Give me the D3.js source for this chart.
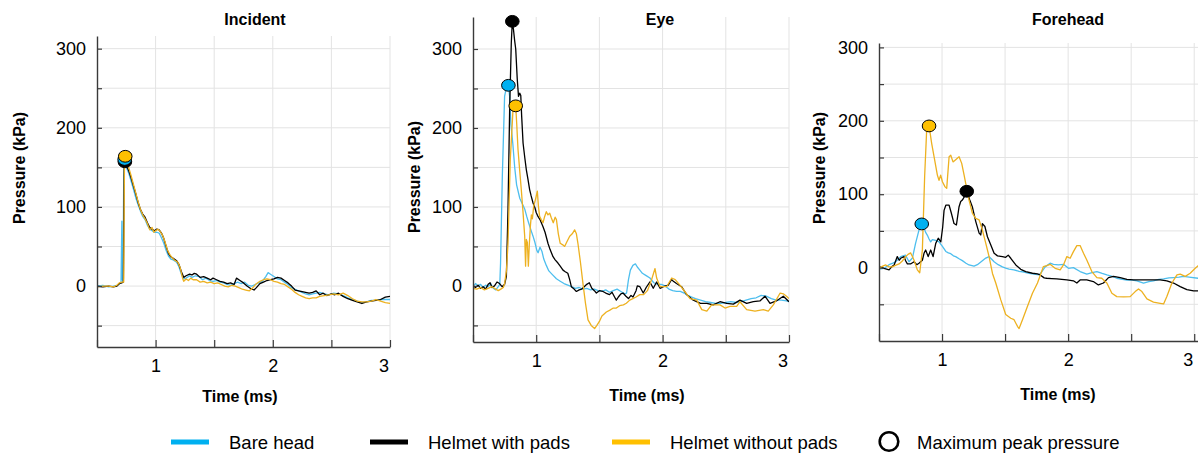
<!DOCTYPE html>
<html>
<head>
<meta charset="utf-8">
<script src="https://cdn.jsdelivr.net/npm/d3@7"></script>
<style>
  body { margin: 0; background: #fff; }
  svg { font-family: "Liberation Sans", Arial, sans-serif; }
</style>
</head>
<body>
<svg id="chart" width="1198" height="453"></svg>
<script>
// data: [time (ms), pressure (kPa)]

var incidentBare = [[0.50,0],[0.55,1],[0.60,-1],[0.64,0],[0.67,1],[0.69,3],[0.705,4],[0.712,82],[0.716,8],[0.722,6],[0.728,140],[0.736,160],[0.75,150],[0.77,143],[0.79,133],[0.81,123],[0.83,112],[0.85,103],[0.87,95],[0.89,88],[0.91,84],[0.93,77],[0.95,72],[0.97,70],[0.99,68],[1.01,68],[1.03,67],[1.05,61],[1.07,54],[1.09,45],[1.11,38],[1.13,34],[1.15,33],[1.18,30],[1.20,24],[1.22,15],[1.24,9],[1.26,10],[1.29,13],[1.31,11],[1.34,13],[1.37,12],[1.40,8],[1.43,10],[1.46,7],[1.49,6],[1.52,7],[1.55,5],[1.58,4],[1.61,2],[1.64,1],[1.67,3],[1.70,5],[1.73,3],[1.76,5],[1.79,1],[1.82,0],[1.85,2],[1.88,4],[1.91,6],[1.94,12],[1.96,17],[1.98,15],[2.01,12],[2.04,9],[2.07,8],[2.10,5],[2.13,2],[2.16,-2],[2.19,-4],[2.22,-6],[2.25,-8],[2.28,-10],[2.31,-11],[2.34,-10],[2.37,-9],[2.40,-8],[2.44,-10],[2.48,-11],[2.52,-9],[2.56,-10],[2.60,-12],[2.64,-15],[2.68,-17],[2.72,-19],[2.76,-21],[2.80,-20],[2.84,-18],[2.88,-18],[2.92,-17],[2.96,-17],[3.0,-17]];

var incidentPads = [[0.50,0],[0.55,-1],[0.60,0],[0.64,-1],[0.67,0],[0.69,3],[0.71,4],[0.725,5],[0.732,150],[0.738,157],[0.75,152],[0.77,146],[0.79,137],[0.81,127],[0.83,117],[0.85,106],[0.87,97],[0.89,91],[0.91,87],[0.93,80],[0.95,74],[0.97,72],[0.99,70],[1.01,72],[1.03,71],[1.05,67],[1.07,60],[1.09,50],[1.11,41],[1.13,37],[1.15,35],[1.18,32],[1.20,27],[1.22,18],[1.24,11],[1.26,13],[1.29,15],[1.31,14],[1.33,16],[1.35,15],[1.38,11],[1.41,12],[1.44,10],[1.47,8],[1.49,10],[1.52,8],[1.55,6],[1.58,5],[1.61,3],[1.64,4],[1.67,2],[1.69,10],[1.72,7],[1.75,4],[1.78,0],[1.81,-3],[1.84,-5],[1.86,-2],[1.89,3],[1.92,5],[1.95,7],[1.98,8],[2.01,9],[2.04,11],[2.07,10],[2.10,7],[2.13,4],[2.16,0],[2.19,-5],[2.22,-6],[2.25,-7],[2.28,-8],[2.31,-9],[2.34,-8],[2.37,-6],[2.40,-11],[2.43,-9],[2.46,-12],[2.50,-10],[2.53,-11],[2.56,-9],[2.60,-13],[2.64,-16],[2.68,-18],[2.72,-20],[2.76,-22],[2.80,-20],[2.84,-19],[2.88,-18],[2.92,-17],[2.96,-14],[3.0,-13]];

var incidentNoPads = [[0.50,-1],[0.55,0],[0.60,0],[0.64,-1],[0.67,1],[0.69,4],[0.71,5],[0.728,5],[0.734,150],[0.741,164],[0.75,158],[0.77,150],[0.79,140],[0.81,129],[0.83,118],[0.85,107],[0.87,97],[0.89,90],[0.91,85],[0.93,79],[0.95,71],[0.97,74],[0.985,68],[1.0,70],[1.02,72],[1.04,69],[1.06,64],[1.08,56],[1.10,46],[1.12,40],[1.14,36],[1.16,33],[1.19,30],[1.21,23],[1.23,10],[1.24,6],[1.26,9],[1.28,7],[1.30,10],[1.32,8],[1.35,8],[1.38,5],[1.41,6],[1.44,4],[1.47,5],[1.50,3],[1.53,4],[1.56,2],[1.59,0],[1.62,-1],[1.65,1],[1.68,0],[1.71,-2],[1.74,-4],[1.77,-5],[1.80,-6],[1.83,-2],[1.86,3],[1.89,6],[1.92,8],[1.95,9],[1.98,8],[2.01,6],[2.04,5],[2.07,3],[2.10,2],[2.13,-1],[2.16,-4],[2.19,-8],[2.22,-11],[2.25,-13],[2.28,-15],[2.31,-16],[2.34,-15],[2.37,-15],[2.40,-13],[2.44,-12],[2.48,-11],[2.52,-10],[2.56,-11],[2.60,-9],[2.64,-12],[2.68,-16],[2.72,-19],[2.76,-20],[2.80,-20],[2.84,-19],[2.88,-17],[2.92,-19],[2.96,-21],[3.0,-22]];

var eyeBare = [[0.50,-1],[0.52,3],[0.54,0],[0.56,2],[0.58,-2],[0.60,1],[0.62,-1],[0.64,3],[0.66,-3],[0.68,-5],[0.70,-1],[0.712,2],[0.718,29],[0.732,139],[0.75,240],[0.765,252],[0.78,254],[0.79,240],[0.80,205],[0.815,180],[0.83,150],[0.845,128],[0.87,111],[0.89,104],[0.91,97],[0.925,88],[0.94,80],[0.96,70],[0.975,63],[0.99,55],[1.005,45],[1.015,42],[1.03,49],[1.045,44],[1.06,34],[1.08,26],[1.10,19],[1.13,14],[1.16,9],[1.19,6],[1.22,3],[1.25,1],[1.28,-1],[1.31,-3],[1.34,-2],[1.37,-4],[1.40,-3],[1.43,-5],[1.46,-4],[1.49,-6],[1.52,-7],[1.55,-5],[1.58,-8],[1.61,-6],[1.64,-4],[1.67,-7],[1.70,-10],[1.715,-9],[1.73,8],[1.745,20],[1.765,26],[1.785,28],[1.80,24],[1.82,20],[1.84,16],[1.87,13],[1.90,10],[1.93,4],[1.96,2],[1.99,2],[2.02,0],[2.05,-4],[2.08,-6],[2.11,-7],[2.14,-7],[2.17,-9],[2.20,-12],[2.23,-14],[2.26,-16],[2.30,-18],[2.34,-20],[2.38,-21],[2.42,-22],[2.46,-22],[2.50,-21],[2.54,-20],[2.58,-21],[2.62,-20],[2.66,-18],[2.70,-16],[2.74,-15],[2.78,-12],[2.82,-13],[2.86,-16],[2.90,-18],[2.94,-18],[2.98,-19],[3.0,-20]];

var eyePads = [[0.50,0],[0.52,-2],[0.54,1],[0.56,-3],[0.58,-1],[0.60,-4],[0.62,2],[0.635,4],[0.65,-2],[0.67,0],[0.69,5],[0.71,3],[0.73,-1],[0.75,2],[0.764,12],[0.777,97],[0.79,224],[0.803,308],[0.811,335],[0.82,325],[0.83,310],[0.838,300],[0.85,262],[0.86,240],[0.87,244],[0.878,241],[0.885,215],[0.896,181],[0.91,162],[0.922,147],[0.935,135],[0.948,122],[0.96,114],[0.975,105],[0.99,99],[1.0,93],[1.014,88],[1.03,84],[1.054,75],[1.07,68],[1.093,54],[1.11,46],[1.133,37],[1.15,33],[1.172,29],[1.19,25],[1.212,20],[1.23,18],[1.25,16],[1.265,8],[1.278,-1],[1.30,-4],[1.318,-7],[1.34,-5],[1.36,-4],[1.38,-1],[1.40,2],[1.42,4],[1.44,-3],[1.46,-6],[1.476,-9],[1.50,-6],[1.528,-7],[1.55,-9],[1.58,-11],[1.60,-8],[1.62,-14],[1.634,-18],[1.65,-14],[1.67,-10],[1.687,-9],[1.71,-13],[1.73,-16],[1.75,-12],[1.766,-14],[1.79,-6],[1.80,0],[1.82,-1],[1.847,-9],[1.87,-2],[1.90,5],[1.926,-3],[1.953,5],[1.98,-3],[2.006,-1],[2.045,1],[2.07,8],[2.085,6],[2.11,3],[2.15,-1],[2.19,-11],[2.243,-18],[2.30,-22],[2.35,-22],[2.40,-24],[2.454,-20],[2.507,-22],[2.56,-23],[2.612,-18],[2.665,-22],[2.718,-20],[2.77,-19],[2.81,-13],[2.85,-22],[2.90,-19],[2.955,-13],[3.0,-20]];

var eyeNoPads = [[0.50,-3],[0.53,-4],[0.56,-2],[0.59,-5],[0.62,-3],[0.65,-1],[0.68,-4],[0.70,-6],[0.72,-4],[0.74,-2],[0.75,3],[0.765,20],[0.777,54],[0.795,160],[0.816,222],[0.83,225],[0.838,228],[0.846,205],[0.856,173],[0.87,145],[0.882,122],[0.895,95],[0.909,63],[0.916,25],[0.922,59],[0.93,55],[0.938,25],[0.946,54],[0.955,78],[0.962,90],[0.97,85],[0.98,101],[0.995,110],[1.009,120],[1.018,100],[1.027,88],[1.04,84],[1.054,80],[1.067,88],[1.08,94],[1.093,90],[1.107,92],[1.12,86],[1.135,80],[1.15,87],[1.16,84],[1.175,66],[1.19,54],[1.21,52],[1.225,50],[1.24,55],[1.265,63],[1.285,66],[1.304,71],[1.318,66],[1.33,54],[1.35,30],[1.37,3],[1.39,-22],[1.41,-43],[1.435,-50],[1.462,-54],[1.48,-50],[1.50,-45],[1.52,-38],[1.555,-33],[1.58,-31],[1.61,-28],[1.634,-28],[1.66,-25],[1.69,-24],[1.713,-22],[1.74,-18],[1.765,-16],[1.79,-14],[1.82,-11],[1.85,-11],[1.88,-6],[1.913,8],[1.94,22],[1.953,10],[1.98,-1],[2.032,-1],[2.072,10],[2.10,8],[2.137,1],[2.18,-8],[2.217,-16],[2.27,-18],[2.31,-30],[2.35,-32],[2.388,-24],[2.454,-24],[2.494,-28],[2.533,-26],[2.586,-26],[2.612,-20],[2.665,-30],[2.731,-32],[2.797,-30],[2.836,-32],[2.876,-24],[2.93,-9],[2.955,-10],[2.98,-13],[3.0,-16]];

var foreheadBare = [[0.50,-2],[0.54,-1],[0.58,4],[0.61,6],[0.632,8],[0.65,11],[0.672,15],[0.69,16],[0.71,17],[0.738,8],[0.765,13],[0.79,33],[0.817,51],[0.839,59.5],[0.857,54],[0.87,48],[0.884,44],[0.897,39],[0.91,35],[0.923,38],[0.95,37],[0.976,35],[1.003,29],[1.03,22],[1.05,20],[1.069,19],[1.09,16],[1.108,15],[1.135,12],[1.161,9.5],[1.19,6],[1.214,3.6],[1.254,2],[1.28,4],[1.31,8],[1.347,13],[1.373,15],[1.39,12],[1.413,8],[1.445,4],[1.479,1],[1.51,-1],[1.532,-2],[1.57,-3],[1.611,-5],[1.65,-6],[1.69,-8],[1.73,-9],[1.77,-10],[1.79,-6],[1.818,1],[1.857,6],[1.884,4.5],[1.923,3.6],[1.963,4.5],[2.003,-1],[2.042,0],[2.095,-5.4],[2.148,-9],[2.19,-7],[2.228,-5.4],[2.27,-8],[2.307,-10],[2.35,-12],[2.386,-14.5],[2.43,-16],[2.466,-17],[2.51,-17],[2.545,-18],[2.598,-21],[2.64,-19],[2.677,-18],[2.72,-16],[2.757,-15.4],[2.8,-14],[2.836,-13.6],[2.88,-13],[2.915,-12],[2.96,-13],[3.03,-14.5]];

var foreheadPads = [[0.50,1.4],[0.54,-1],[0.58,-3],[0.60,1],[0.62,3.6],[0.645,15],[0.66,10],[0.672,12.7],[0.698,15],[0.712,9],[0.725,5],[0.75,5],[0.778,8],[0.80,4],[0.817,6],[0.844,10],[0.857,19.5],[0.87,24],[0.89,15],[0.91,24],[0.929,15],[0.95,33],[0.97,40],[0.99,35],[1.005,55],[1.016,78],[1.03,85],[1.056,85],[1.074,74],[1.095,60],[1.114,58],[1.135,83],[1.148,90],[1.161,92],[1.175,96],[1.196,104],[1.21,97],[1.22,92],[1.24,83],[1.267,63],[1.294,47],[1.307,44.5],[1.32,60],[1.34,56],[1.36,42],[1.386,31],[1.413,19.5],[1.44,16],[1.479,15],[1.505,14],[1.525,17],[1.545,12.7],[1.585,3.6],[1.624,-2.3],[1.664,-5.4],[1.717,-7.7],[1.757,-8.6],[1.778,-10],[1.81,-14],[1.83,-14.5],[1.87,-15],[1.91,-15.4],[1.95,-16],[1.99,-16.8],[2.042,-18],[2.069,-21],[2.095,-16.8],[2.148,-16.8],[2.2,-19],[2.24,-23.6],[2.28,-21],[2.32,-13.6],[2.36,-12],[2.413,-13.6],[2.466,-16],[2.519,-16.8],[2.572,-16.8],[2.65,-16.8],[2.73,-16.8],[2.783,-18],[2.836,-21],[2.889,-26],[2.942,-30],[2.995,-31.8],[3.03,-31.8]];

var foreheadNoPads = [[0.50,-1],[0.53,2],[0.553,3.6],[0.58,1],[0.606,1],[0.63,3],[0.659,5],[0.685,9],[0.712,15],[0.73,18],[0.751,20],[0.765,15],[0.778,10],[0.79,4],[0.804,-3],[0.823,-7],[0.844,24],[0.862,124],[0.878,187],[0.897,193],[0.918,169],[0.937,151],[0.963,126],[0.976,119],[0.989,126],[1.003,117],[1.024,110],[1.037,108],[1.056,151],[1.069,153],[1.087,144],[1.108,147],[1.135,151],[1.156,142],[1.175,126],[1.193,110],[1.214,92],[1.241,74],[1.267,67],[1.294,65],[1.32,51],[1.347,33],[1.373,15],[1.40,-8],[1.426,-21],[1.466,-44],[1.505,-64],[1.545,-69],[1.571,-71],[1.598,-80],[1.611,-83],[1.638,-71],[1.677,-53],[1.717,-35],[1.757,-21],[1.78,-10],[1.804,1.4],[1.83,2.7],[1.857,4.5],[1.897,-1],[1.937,-3],[1.963,3.6],[1.99,15],[2.016,12.7],[2.042,21.8],[2.069,30],[2.095,30],[2.122,19.5],[2.148,10.4],[2.188,-5.4],[2.228,-13.6],[2.267,-14.5],[2.307,-21],[2.347,-35],[2.386,-39.5],[2.44,-40],[2.492,-39.5],[2.532,-32.7],[2.558,-29],[2.585,-32.7],[2.625,-42.7],[2.677,-47],[2.73,-48.6],[2.757,-49.5],[2.783,-39.5],[2.823,-21],[2.863,-10],[2.889,-9],[2.929,-12],[2.968,-7.7],[3.008,-1],[3.035,3]];

var seriesNames = ['Bare head', 'Helmet with pads', 'Helmet without pads'];
var lineColors = ['#4dbeee', '#000000', '#edb120'];
var markerColors = ['#00b0f0', '#000000', '#ffc000'];
var legendColors = ['#00b0f0', '#000000', '#ffc000'];
var xTicks = [0.5, 1, 1.5, 2, 2.5, 3];
var xLabels = [1, 2, 3];
var yTicks = [-50, 0, 50, 100, 150, 200, 250, 300];
var yLabels = [0, 100, 200, 300];

var panels = [
    { title: 'Incident', series: [incidentBare, incidentPads, incidentNoPads],
      left: 97, right: 390, top: 36, bottom: 347, xMax: 3, yDomain: [-77, 316],
      titleX: 255, xLabX: 240, xLabY: 402, yLabX: 25, yLabY: 168 },
    { title: 'Eye', series: [eyeBare, eyePads, eyeNoPads],
      left: 473, right: 789, top: 17, bottom: 342, xMax: 3, yDomain: [-71, 340.5],
      titleX: 660, xLabX: 647, xLabY: 401, yLabX: 420, yLabY: 177 },
    { title: 'Forehead', series: [foreheadBare, foreheadPads, foreheadNoPads],
      left: 879, right: 1198, top: 43, bottom: 341, xMax: 3.03, yDomain: [-100, 306],
      titleX: 1068, xLabX: 1058, xLabY: 400, yLabX: 825, yLabY: 168 }
];

var svg = d3.select('#chart');

panels.forEach(function (p, pi) {
    var x = d3.scaleLinear().domain([0.5, p.xMax]).range([p.left, p.right]);
    var y = d3.scaleLinear().domain(p.yDomain).range([p.bottom, p.top]);

    var g = svg.append('g');

    // grid
    g.selectAll('.vgrid').data(xTicks.filter(function (t) { return t > 0.5; }))
        .enter().append('line')
        .attr('x1', function (d) { return x(d); }).attr('x2', function (d) { return x(d); })
        .attr('y1', p.bottom).attr('y2', p.top)
        .attr('stroke', '#e3e3e3').attr('stroke-width', 1);
    g.selectAll('.hgrid').data(yTicks)
        .enter().append('line')
        .attr('x1', p.left).attr('x2', p.right)
        .attr('y1', function (d) { return y(d); }).attr('y2', function (d) { return y(d); })
        .attr('stroke', '#e3e3e3').attr('stroke-width', 1);

    // lines, clipped to the plot area
    var clipId = 'clip' + pi;
    svg.append('clipPath').attr('id', clipId).append('rect')
        .attr('x', p.left).attr('y', p.top)
        .attr('width', p.right - p.left).attr('height', p.bottom - p.top);

    var line = d3.line()
        .x(function (d) { return x(d[0]); })
        .y(function (d) { return y(d[1]); });

    var lines = g.append('g').attr('clip-path', 'url(#' + clipId + ')');
    p.series.forEach(function (s, i) {
        lines.append('path')
            .datum(s)
            .attr('d', line)
            .attr('fill', 'none')
            .attr('stroke', lineColors[i])
            .attr('stroke-width', 1.3)
            .attr('stroke-linejoin', 'round');
    });

    // axes
    var yAxis = d3.axisLeft(y).tickValues(yTicks)
        .tickSizeInner(-5).tickSizeOuter(0).tickPadding(11)
        .tickFormat(function (d) { return yLabels.indexOf(d) >= 0 ? d : ''; });
    var xAxis = d3.axisBottom(x).tickValues(xTicks)
        .tickSizeInner(-7).tickSizeOuter(0).tickPadding(12)
        .tickFormat(function (d) { return xLabels.indexOf(d) >= 0 ? d : ''; });

    var ya = g.append('g').attr('transform', 'translate(' + p.left + ',0)').call(yAxis);
    var xa = g.append('g').attr('transform', 'translate(0,' + p.bottom + ')').call(xAxis);
    [ya, xa].forEach(function (a) {
        a.select('.domain').attr('stroke', '#3a3a3a').attr('stroke-width', 1.4);
        a.selectAll('.tick line').attr('stroke', '#3a3a3a').attr('stroke-width', 1.2);
        a.selectAll('.tick text').attr('fill', '#000')
            .style('font-size', '18px').style('font-family', '"Liberation Sans", Arial, sans-serif');
    });
    // last x label sits inside the axis end, as in the original
    xa.selectAll('.tick text').filter(function (d) { return d === 3; })
        .attr('text-anchor', 'end').attr('x', -1.5);

    // peak markers: black, blue, yellow (yellow on top)
    [1, 0, 2].forEach(function (i) {
        var s = p.series[i];
        var peak = d3.greatest(s, function (d) { return d[1]; });
        g.append('ellipse')
            .attr('cx', x(peak[0])).attr('cy', y(peak[1]))
            .attr('rx', 6.8).attr('ry', 5.9)
            .attr('fill', markerColors[i])
            .attr('stroke', '#000').attr('stroke-width', 1);
    });

    // texts
    g.append('text').attr('x', p.titleX).attr('y', 25)
        .attr('text-anchor', 'middle').style('font-weight', 'bold').style('font-size', '16px')
        .text(p.title);
    g.append('text').attr('x', p.xLabX).attr('y', p.xLabY)
        .attr('text-anchor', 'middle').style('font-weight', 'bold').style('font-size', '16px')
        .text('Time (ms)');
    g.append('text')
        .attr('transform', 'translate(' + p.yLabX + ',' + p.yLabY + ') rotate(-90)')
        .attr('text-anchor', 'middle').style('font-weight', 'bold').style('font-size', '16px')
        .text('Pressure (kPa)');
});

// legend
var legendX = [171, 370, 612];
var legend = svg.append('g');
seriesNames.forEach(function (name, i) {
    legend.append('rect')
        .attr('x', legendX[i]).attr('y', 439.5)
        .attr('width', 38).attr('height', 5)
        .attr('fill', legendColors[i]);
    legend.append('text')
        .attr('x', legendX[i] + 58).attr('y', 448.5)
        .style('font-size', '18.5px')
        .text(name);
});
legend.append('circle')
    .attr('cx', 889).attr('cy', 441.5).attr('r', 9.3)
    .attr('fill', '#fff').attr('stroke', '#000').attr('stroke-width', 2.6);
legend.append('text')
    .attr('x', 917).attr('y', 448.5)
    .style('font-size', '18.5px')
    .text('Maximum peak pressure');
</script>
</body>
</html>
